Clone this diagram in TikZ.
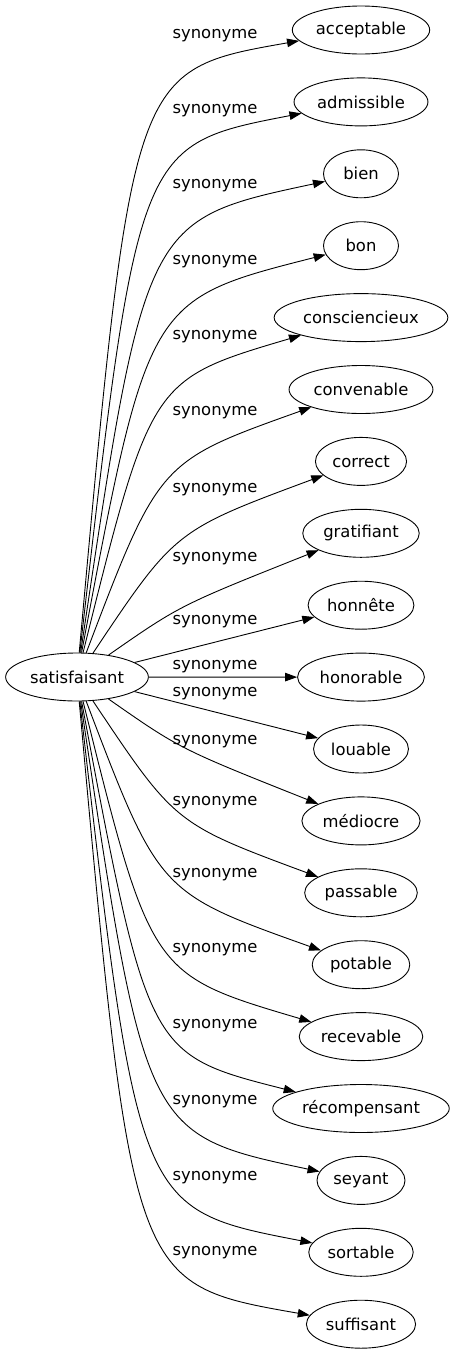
\documentclass[tikz,border=0pt]{standalone}
\usepackage{fontspec}
\setmainfont{DejaVu Sans}
\usetikzlibrary{arrows.meta,shapes.geometric}

\begin{document}
\begin{tikzpicture}[x=1pt,y=-1pt,>={Triangle[length=12pt,width=8.5pt]},
    font=\fontsize{16.4}{19}\selectfont]
  \tikzstyle{word}=[ellipse,draw,line width=0.9pt,inner xsep=3.5pt,
                    inner ysep=0pt,minimum width=75pt,minimum height=48pt]
  \tikzstyle{syn}=[->,line width=0.9pt]
  \tikzstyle{rel}=[inner sep=0pt]
  \useasboundingbox (0,0) rectangle (455,1355);

  \node [word] (s) at (77,677) {satisfaisant};
  % i / word / label y / bend x / bend offset from the word
  \foreach \i/\w/\yl/\kx/\ky in {
      1/acceptable/36/132/40,
      2/admissible/111/138/43,
      3/bien/186/145/46,
      4/bon/262/148/54,
      5/consciencieux/337/151/62,
      6/convenable/413/159/72,
      7/correct/490/175/69,
      8/gratifiant/559/180/72,
      9/honnête/622/219/36,
      10/honorable/667/219/0,
      11/louable/694/219/36,
      12/médiocre/742/180/72,
      13/passable/803/175/69,
      14/potable/875/159/72,
      15/recevable/950/151/62,
      16/récompensant/1026/148/54,
      17/seyant/1102/145/46,
      18/sortable/1178/138/43,
      19/suffisant/1253/132/40}
  {
    \pgfmathsetmacro\yt{30+71.9*(\i-1)}
    \pgfmathsetmacro\yk{\i<10 ? \yt+\ky : \yt-\ky}
    \node [word] (t\i) at (361,\yt) {\w};
    \node [rel] (l\i) at (215,\yl) {synonyme};
    \draw [syn] (s) .. controls (\kx,\yk) and (\kx,\yk) .. (t\i);
  }
\end{tikzpicture}
\end{document}
